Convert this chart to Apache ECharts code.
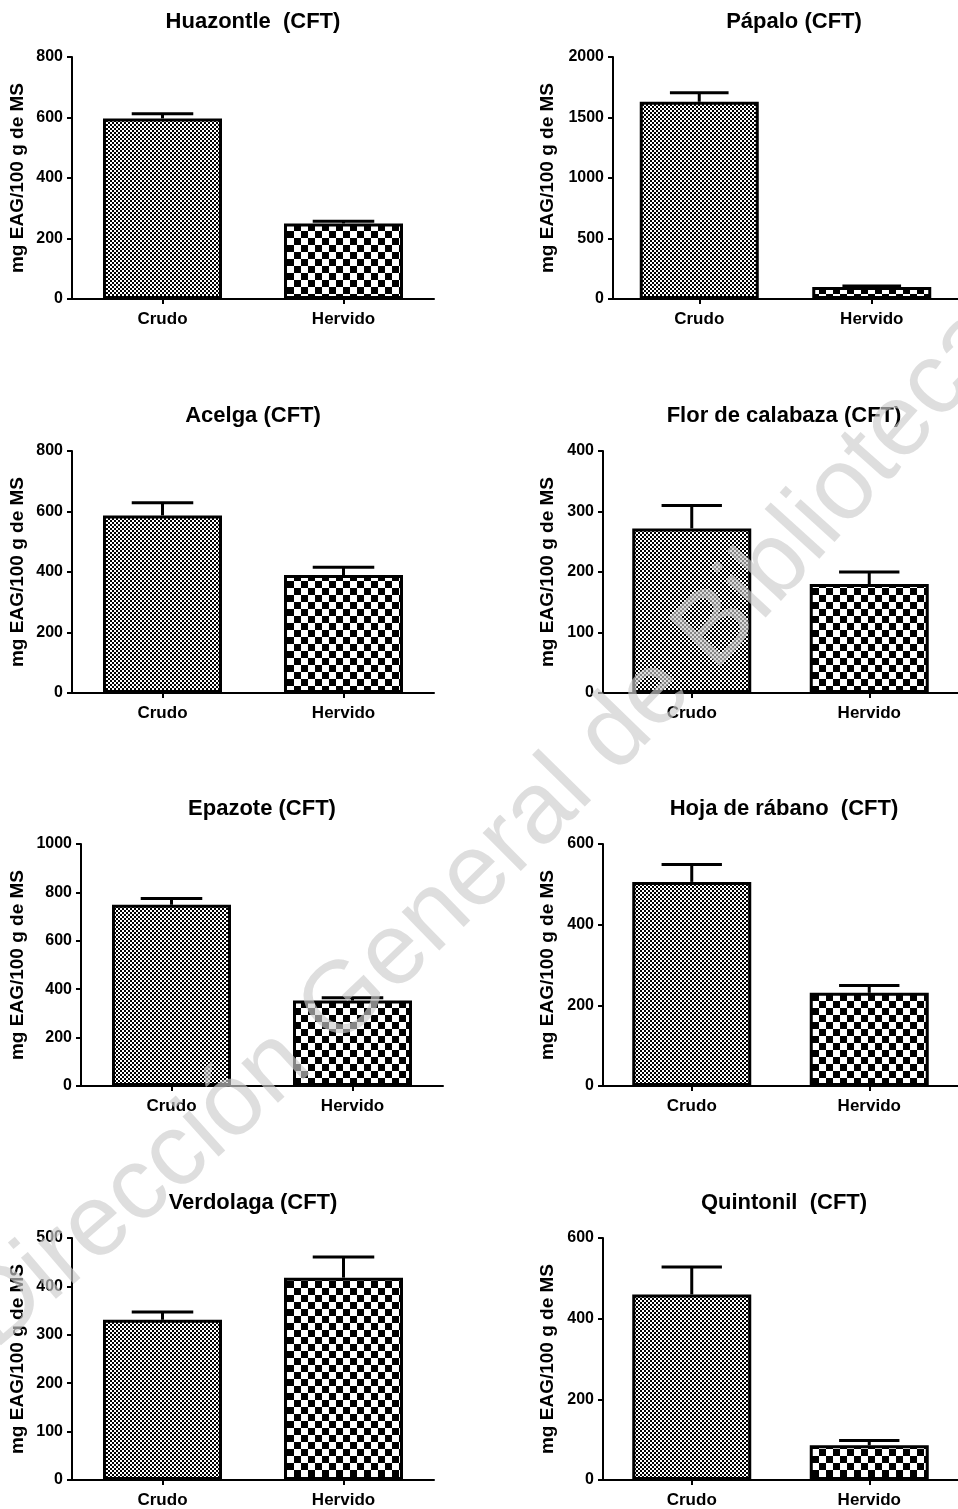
<!DOCTYPE html>
<html><head><meta charset="utf-8">
<script src="https://cdn.jsdelivr.net/npm/echarts@6/dist/echarts.min.js"></script>
<style>html,body{margin:0;padding:0;background:#fff}#c{width:958px;height:1509px}</style>
</head><body><div id="c"></div>
<script>
// ---------- data ----------
const categories = ['Crudo', 'Hervido'];
const panelTitles = ['Huazontle  (CFT)', 'Pápalo (CFT)', 'Acelga (CFT)', 'Flor de calabaza (CFT)',
                     'Epazote (CFT)', 'Hoja de rábano  (CFT)', 'Verdolaga (CFT)', 'Quintonil  (CFT)'];
const crudoMean   = [597, 1630, 587, 272, 749, 506, 331, 460];
const crudoErr    = [15, 75, 42, 38, 26, 43, 16, 68];
const hervidoMean = [250, 100, 390, 180, 353, 231, 418, 86];
const hervidoErr  = [7, 7, 26, 20, 12, 18, 43, 12];
const yMax        = [800, 2000, 800, 400, 1000, 600, 500, 600];
const yInterval   = [200, 500, 200, 100, 200, 200, 100, 200];
const yAxisName = 'mg EAG/100 g de MS';
const watermarkText = 'Dirección General de Bibliotecas';

// ---------- layout ----------
const axisX = [72, 613, 72, 603, 81, 603, 72, 603];
const rowTop = [57, 451, 844, 1238];
const plotW = 362, plotH = 242;
const nameCenterX = [18, 548];
const FONT = '"Liberation Sans", Arial, sans-serif';
const nameSize = 19;

function makePattern(cell, fg, bg) {
  const c = document.createElement('canvas');
  c.width = c.height = cell * 2;
  const g = c.getContext('2d');
  g.fillStyle = bg; g.fillRect(0, 0, cell * 2, cell * 2);
  g.fillStyle = fg;
  g.fillRect(0, 0, cell, cell);
  g.fillRect(cell, cell, cell, cell);
  return c;
}
const finePat = makePattern(2, '#fff', '#000');
const coarsePat = makePattern(7, '#000', '#fff');

const grids = [], xAxes = [], yAxes = [], series = [], titles = [];
for (let i = 0; i < 8; i++) {
  const col = i % 2, row = Math.floor(i / 2);
  grids.push({ left: axisX[i], top: rowTop[row], width: plotW, height: plotH, containLabel: false });
  titles.push({
    text: panelTitles[i], left: axisX[i] + plotW / 2, top: rowTop[row] - 46, textAlign: 'center', padding: 0,
    textStyle: { fontFamily: FONT, fontWeight: 'bold', fontSize: 22, color: '#000' }
  });
  xAxes.push({
    type: 'category', gridIndex: i, data: categories,
    axisLine: { show: true, lineStyle: { color: '#000', width: 2 } },
    axisTick: { show: true, alignWithLabel: true, length: 5, lineStyle: { color: '#000', width: 2 } },
    axisLabel: { fontFamily: FONT, fontWeight: 'bold', fontSize: 17, color: '#000', margin: 12 },
    splitLine: { show: false }
  });
  yAxes.push({
    type: 'value', gridIndex: i, min: 0, max: yMax[i], interval: yInterval[i],
    axisLine: { show: true, lineStyle: { color: '#000', width: 2 } },
    axisTick: { show: true, length: 5, lineStyle: { color: '#000', width: 2 } },
    axisLabel: { fontFamily: FONT, fontWeight: 'bold', fontSize: 16, color: '#000', margin: 9,
                 formatter: v => String(v) },
    splitLine: { show: false },
    name: yAxisName, nameLocation: 'middle', nameRotate: 90, nameMoveOverlap: false,
    nameGap: axisX[i] - nameCenterX[col] - nameSize / 2,
    nameTextStyle: { fontFamily: FONT, fontWeight: 'bold', fontSize: nameSize, color: '#000' }
  });
  series.push({
    type: 'bar', xAxisIndex: i, yAxisIndex: i, barWidth: 119, z: 2,
    data: [
      { value: crudoMean[i], itemStyle: { color: { image: finePat, repeat: 'repeat' } } },
      { value: hervidoMean[i], itemStyle: { color: { image: coarsePat, repeat: 'repeat' } } }
    ],
    itemStyle: { borderColor: '#000', borderWidth: 3 },
    emphasis: { disabled: true }, animation: false
  });
  series.push({
    type: 'custom', xAxisIndex: i, yAxisIndex: i, z: 3, clip: false, animation: false,
    encode: { x: 0, y: 1 },
    data: [[0, crudoMean[i], crudoErr[i]], [1, hervidoMean[i], hervidoErr[i]]],
    renderItem: function (params, api) {
      const x = api.value(0), m = api.value(1), e = api.value(2);
      const p0 = api.coord([x, m]), p1 = api.coord([x, m + e]);
      const half = api.size([1, 0])[0] * 0.17;
      const st = { stroke: '#000', lineWidth: 3 };
      return { type: 'group', children: [
        { type: 'line', shape: { x1: p0[0], y1: p0[1], x2: p1[0], y2: p1[1] }, style: st },
        { type: 'line', shape: { x1: p1[0] - half, y1: p1[1], x2: p1[0] + half, y2: p1[1] }, style: st }
      ] };
    }
  });
}

function watermark() {
  const size = 102;
  const ctx = document.createElement('canvas').getContext('2d');
  ctx.font = size + 'px "Liberation Sans"';
  const chars = Array.from(watermarkText);
  const widths = chars.map(c => ctx.measureText(c).width);
  const total = widths.reduce((a, b) => a + b, 0);
  const xc = 522, yc = 830, thc = Math.PI / 4, k = 0.00012;
  const out = [];
  let cum = 0;
  chars.forEach((c, j) => {
    const s = cum + widths[j] / 2 - total / 2;
    cum += widths[j];
    const th = thc + k * s;
    const x = xc + (Math.sin(th) - Math.sin(thc)) / k;
    const y = yc + (Math.cos(th) - Math.cos(thc)) / k;
    if (c === ' ') return;
    out.push({ type: 'text', x: x, y: y, rotation: th, silent: true, z: 100,
      style: { text: c, fontSize: size, fontFamily: '"Liberation Sans"', fill: 'rgba(205,205,205,0.65)',
               align: 'center', verticalAlign: 'middle' } });
  });
  return out;
}

const chart = echarts.init(document.getElementById('c'), null, { renderer: 'canvas' });
chart.setOption({
  backgroundColor: '#fff', animation: false,
  title: titles, grid: grids, xAxis: xAxes, yAxis: yAxes, series: series,
  graphic: watermark()
});
</script></body></html>
